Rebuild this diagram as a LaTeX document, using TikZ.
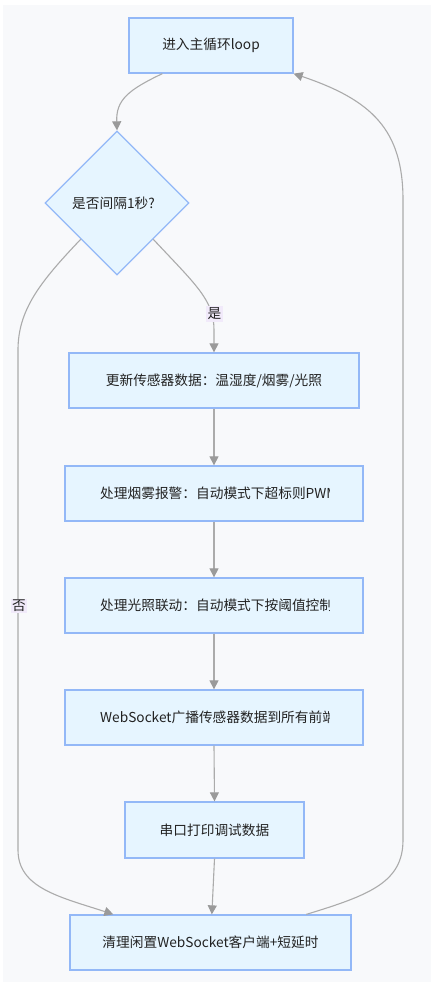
\documentclass[tikz,border=0pt]{standalone}
\usepackage{fontspec}
\setmainfont{Noto Sans CJK SC}
\usetikzlibrary{shapes.geometric,arrows.meta,calc}
\definecolor{bgc}{HTML}{F8F9FB}
\definecolor{fillc}{HTML}{E6F5FF}
\definecolor{bordc}{HTML}{93B8F7}
\definecolor{edgec}{HTML}{ABABAB}
\definecolor{tipc}{HTML}{9A9A9A}
\definecolor{lblc}{HTML}{F1EAFA}
\definecolor{txtc}{HTML}{222222}
\tikzset{
  stepbox/.style={draw=bordc,fill=fillc,line width=1.3pt,inner sep=0pt,rectangle},
  txt/.style={font=\fontsize{13.7pt}{15pt}\selectfont,text=txtc,inner sep=0pt},
  edge/.style={draw=edgec,line width=1.1pt,-{Triangle[length=9pt,width=9pt,fill=tipc,color=tipc]}},
  lbl/.style={fill=lblc,font=\fontsize{13.7pt}{15pt}\selectfont,text=txtc,inner sep=1.5pt}
}
\begin{document}
\begin{tikzpicture}[x=1pt,y=-1pt]
\useasboundingbox (0,0) rectangle (432,985);
\fill[white] (0,0) rectangle (432,985);
\fill[bgc] (3,5) rectangle (431,982);
% nodes
\node[stepbox,minimum width=164pt,minimum height=55pt] (top) at (211,45.5) {};
\node[txt] (toptx) at (top.center) {进入主循环loop};
\node[stepbox,diamond,minimum width=144pt,minimum height=144pt] (dia) at (117,203) {};
\node[txt] (diatx) at (113.5,203) {是否间隔1秒?};
\node[stepbox,minimum width=290pt,minimum height=55pt] (b2) at (214,380.5) {};
\node[txt] (b2tx) at (b2.center) {更新传感器数据：温湿度/烟雾/光照};
\node[stepbox,minimum width=298pt,minimum height=55pt] (b3) at (214,493.5) {};
\node[stepbox,minimum width=298pt,minimum height=55pt] (b4) at (214,605.5) {};
\node[stepbox,minimum width=298pt,minimum height=55pt] (b5) at (214,717.5) {};
\begin{scope}
\clip (99,460) rectangle (329.5,750);
\node[txt,anchor=west] (b3tx) at (100,493.5) {处理烟雾报警：自动模式下超标则PWM};
\node[txt,anchor=west] (b4tx) at (100,605.5) {处理光照联动：自动模式下按阈值控制};
\node[txt,anchor=west] (b5tx) at (100,717.5) {WebSocket广播传感器数据到所有前端};
\end{scope}
\node[stepbox,minimum width=179pt,minimum height=56pt] (b6) at (214.5,830) {};
\node[txt] (b6tx) at (b6.center) {串口打印调试数据};
\node[stepbox,minimum width=281pt,minimum height=55pt] (b7) at (210.5,942.5) {};
\node[txt] (b7tx) at (b7.center) {清理闲置WebSocket客户端+短延时};
% edges
\draw[edge] ($(top.south west)+(34,0)$) .. controls (128,90) and (116,100) .. (dia.north);
\draw[edge] (dia.south east) .. controls (196,285) and (214,300) .. (214,330) -- (b2.north);
\draw[edge] (b2.south) -- (b3.north);
\draw[edge] (b3.south) -- (b4.north);
\draw[edge] (b4.south) -- (b5.north);
\draw[edge] (b5.south) -- (b6.north);
\draw[edge] (b6.south) -- ($(b7.north west)+(142.5,0)$);
\draw[edge] (dia.south west) .. controls (40,282) and (18,310) .. (18,350) -- (18,850) .. controls (18,888) and (60,897) .. ($(b7.north west)+(44,0)$);
\draw[edge] ($(b7.north west)+(237,0)$) .. controls (370,895) and (403,882) .. (403,840) -- (403,200) .. controls (403,130) and (372,100) .. (top.south east);
% labels
\node[lbl] (yes) at (214.5,314) {是};
\node[lbl] (no) at (19,606) {否};
\end{tikzpicture}
\end{document}
